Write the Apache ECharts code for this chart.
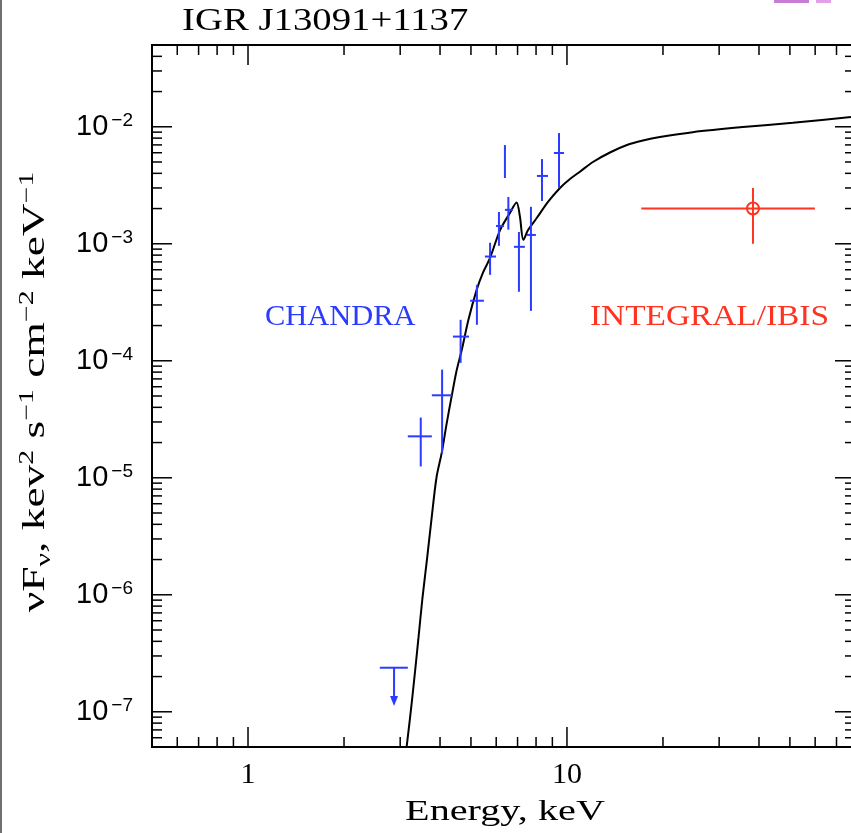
<!DOCTYPE html>
<html>
<head>
<meta charset="utf-8">
<title>IGR J13091+1137</title>
<script src="https://cdn.jsdelivr.net/npm/echarts@6/dist/echarts.min.js"></script>
<style>
  html, body { margin: 0; padding: 0; background: #fff; }
  #chart { width: 851px; height: 833px; }
</style>
</head>
<body>
<div id="chart"></div>
<script>
// Axis ranges (keV, keV^2 s^-1 cm^-2 keV^-1)
const energyRange = [0.5, 80];
const fluxRange = [5e-8, 5e-2];

// Tick marks
const energyMajorTicks = [1, 10];
const energyMinorTicks = [0.6, 0.7, 0.8, 0.9, 2, 3, 4, 5, 6, 7, 8, 9, 20, 30, 40, 50, 60, 70];
const fluxMajorTicks = [1e-7, 1e-6, 1e-5, 1e-4, 1e-3, 1e-2];
const fluxMinorTicks = [6e-8, 7e-8, 8e-8, 9e-8,
  2e-7, 3e-7, 4e-7, 5e-7, 6e-7, 7e-7, 8e-7, 9e-7,
  2e-6, 3e-6, 4e-6, 5e-6, 6e-6, 7e-6, 8e-6, 9e-6,
  2e-5, 3e-5, 4e-5, 5e-5, 6e-5, 7e-5, 8e-5, 9e-5,
  2e-4, 3e-4, 4e-4, 5e-4, 6e-4, 7e-4, 8e-4, 9e-4,
  2e-3, 3e-3, 4e-3, 5e-3, 6e-3, 7e-3, 8e-3, 9e-3,
  2e-2, 3e-2, 4e-2];

// Chandra spectrum: centre, energy bin edges, flux error range
const chandraE    = [3.48, 4.06, 4.64, 5.22, 5.74, 6.12, 6.39, 6.55, 7.07, 7.71, 8.35, 9.44];
const chandraElo  = [3.17, 3.77, 4.39, 4.97, 5.53, 5.99, 6.39, 6.39, 6.82, 7.49, 8.05, 9.10];
const chandraEhi  = [3.77, 4.36, 4.93, 5.49, 5.99, 6.35, 6.39, 6.77, 7.38, 7.99, 8.72, 9.79];
const chandraF    = [2.26e-5, 5.07e-5, 1.61e-4, 3.26e-4, 7.78e-4, 1.42e-3, 5.05e-3, 1.95e-3, 9.42e-4, 1.19e-3, 3.80e-3, 5.97e-3];
const chandraFlo  = [1.25e-5, 1.61e-5, 9.6e-5, 2.03e-4, 5.43e-4, 9.6e-4, 3.65e-3, 1.32e-3, 3.89e-4, 2.67e-4, 2.32e-3, 3.00e-3];
const chandraFhi  = [3.27e-5, 8.4e-5, 2.24e-4, 4.46e-4, 1.02e-3, 1.87e-3, 6.98e-3, 2.51e-3, 1.26e-3, 2.07e-3, 5.30e-3, 8.84e-3];

// Chandra upper limit: energy, bin edges, limit, arrow end
const limitE = [2.87];
const limitElo = [2.59];
const limitEhi = [3.17];
const limitF = [2.38e-7];
const limitArrowTo = [1.12e-7];

// INTEGRAL/IBIS point
const ibisE = [38.3];
const ibisElo = [17.1];
const ibisEhi = [59.9];
const ibisF = [2.0e-3];
const ibisFlo = [1.0e-3];
const ibisFhi = [3.0e-3];

// Absorbed model spectrum
const modelEnergy = [3.145, 3.27, 3.42, 3.52, 3.64, 3.76, 3.90, 4.05, 4.19, 4.35, 4.50, 4.68, 4.91, 5.21, 5.45,
  5.74, 6.17, 6.63, 6.95, 7.12, 7.30, 7.55, 8.04, 8.72, 9.51, 10.22, 10.98, 12.06, 13.64, 15.42, 17.3,
  19.56, 24.8, 35.6, 51.1, 77.7, 80];
const modelFlux = [5.09e-8, 1.28e-7, 4.17e-7, 9.16e-7, 2.01e-6, 4.41e-6, 1.01e-5, 1.64e-5, 2.85e-5, 4.97e-5, 8.07e-5,
  1.24e-4, 2.24e-4, 4.04e-4, 5.65e-4, 7.58e-4, 1.31e-3, 1.84e-3, 2.25e-3, 1.71e-3, 1.08e-3, 1.31e-3, 1.66e-3,
  2.28e-3, 3.00e-3, 3.58e-3, 4.13e-3, 5.00e-3, 6.03e-3, 6.98e-3, 7.62e-3, 8.17e-3, 9.00e-3, 9.94e-3, 1.08e-2,
  1.21e-2, 1.22e-2];

const BLUE = '#2b3bff';
const RED = '#ff3322';
const SERIF = '"Liberation Serif", "DejaVu Serif", serif';
const SANS = '"Liberation Sans", Arial, sans-serif';

const chandraData = chandraE.map((e, i) => [e, chandraF[i], chandraElo[i], chandraEhi[i], chandraFlo[i], chandraFhi[i]]);
const limitData = limitE.map((e, i) => [e, limitF[i], limitElo[i], limitEhi[i], limitArrowTo[i]]);
const ibisData = ibisE.map((e, i) => [e, ibisF[i], ibisElo[i], ibisEhi[i], ibisFlo[i], ibisFhi[i]]);
const modelData = modelEnergy.map((e, i) => [e, modelFlux[i]]);

function isDecade(v) {
  const p = Math.log10(v);
  return Math.abs(p - Math.round(p)) < 1e-6;
}

function line(x1, y1, x2, y2, color, w) {
  return { type: 'line', shape: { x1, y1, x2, y2 }, style: { stroke: color, lineWidth: w } };
}

// Cross-shaped error bars
function renderCross(color, withCircle) {
  return function (params, api) {
    const e = api.value(0), f = api.value(1);
    const pL = api.coord([api.value(2), f]);
    const pR = api.coord([api.value(3), f]);
    const pB = api.coord([e, api.value(4)]);
    const pT = api.coord([e, api.value(5)]);
    const c = api.coord([e, f]);
    const children = [
      line(pL[0], pL[1], pR[0], pR[1], color, 2),
      line(pB[0], pB[1], pT[0], pT[1], color, 2)
    ];
    if (withCircle) {
      children.push({ type: 'circle', shape: { cx: c[0], cy: c[1], r: 6 },
        style: { fill: null, stroke: color, lineWidth: 2 } });
    }
    return { type: 'group', children };
  };
}

// Upper limit: horizontal bin bar with a downward arrow
function renderLimit(params, api) {
  const e = api.value(0), f = api.value(1);
  const pL = api.coord([api.value(2), f]);
  const pR = api.coord([api.value(3), f]);
  const top = api.coord([e, f]);
  const tip = api.coord([e, api.value(4)]);
  return {
    type: 'group',
    children: [
      line(pL[0], pL[1], pR[0], pR[1], BLUE, 2),
      line(top[0], top[1], tip[0], tip[1] - 8, BLUE, 2),
      { type: 'polygon', shape: { points: [[tip[0] - 4, tip[1] - 10], [tip[0] + 4, tip[1] - 10], [tip[0], tip[1]]] },
        style: { fill: BLUE } }
    ]
  };
}

// Frame with inward log ticks on all four sides
function renderFrame(params, api) {
  const cs = params.coordSys;
  const x0 = cs.x, y0 = cs.y, x1 = cs.x + cs.width, y1 = cs.y + cs.height;
  const yRef = fluxRange[0], xRef = energyRange[0];
  const children = [];
  const addX = (vals, len) => vals.forEach(v => {
    const px = api.coord([v, yRef])[0];
    children.push(line(px, y1, px, y1 - len, '#000', 1.5));
    children.push(line(px, y0, px, y0 + len, '#000', 1.5));
  });
  const addY = (vals, len) => vals.forEach(v => {
    const py = api.coord([xRef, v])[1];
    children.push(line(x0, py, x0 + len, py, '#000', 1.5));
    children.push(line(x1, py, x1 - len, py, '#000', 1.5));
  });
  addX(energyMajorTicks, 20);
  addX(energyMinorTicks, 10);
  addY(fluxMajorTicks, 20);
  addY(fluxMinorTicks, 10);
  children.push({ type: 'rect', shape: { x: x0, y: y0, width: cs.width, height: cs.height },
    style: { fill: null, stroke: '#000', lineWidth: 2 } });
  return { type: 'group', children };
}

const chart = echarts.init(document.getElementById('chart'), null, { renderer: 'canvas' });

chart.setOption({
  animation: false,
  backgroundColor: '#fff',
  grid: { left: 152, width: 703, top: 45, height: 702, containLabel: false, outerBoundsMode: 'none' },
  xAxis: {
    type: 'log', logBase: 10, min: energyRange[0], max: energyRange[1],
    axisLine: { show: false }, axisTick: { show: false }, splitLine: { show: false },
    axisLabel: {
      margin: 13, fontFamily: SERIF, fontSize: 30, color: '#000',
      showMinLabel: false, showMaxLabel: false,
      formatter: v => isDecade(v) ? String(Math.round(v)) : ''
    }
  },
  yAxis: {
    type: 'log', logBase: 10, min: fluxRange[0], max: fluxRange[1],
    axisLine: { show: false }, axisTick: { show: false }, splitLine: { show: false },
    axisLabel: {
      margin: 19, color: '#000',
      showMinLabel: false, showMaxLabel: false,
      formatter: v => isDecade(v) ? '{b|10}{s|\u2212' + (-Math.round(Math.log10(v))) + '}' : '',
      rich: {
        b: { fontFamily: SANS, fontSize: 29, lineHeight: 32, color: '#000' },
        s: { fontFamily: SANS, fontSize: 19, lineHeight: 20, verticalAlign: 'top', padding: [0, 0, 0, 3], color: '#000' }
      }
    }
  },
  series: [
    {
      type: 'custom', name: 'frame', silent: true, clip: false, z: 5,
      data: [[1, 1e-3]], renderItem: renderFrame
    },
    {
      type: 'line', name: 'model', data: modelData, showSymbol: false, smooth: 0.3,
      lineStyle: { color: '#000', width: 2 }, clip: true, z: 3
    },
    {
      type: 'custom', name: 'CHANDRA', data: chandraData, renderItem: renderCross(BLUE, false),
      encode: { x: 0, y: 1 }, z: 4
    },
    {
      type: 'custom', name: 'CHANDRA limit', data: limitData, renderItem: renderLimit,
      encode: { x: 0, y: 1 }, z: 4
    },
    {
      type: 'custom', name: 'INTEGRAL/IBIS', data: ibisData, renderItem: renderCross(RED, true),
      encode: { x: 0, y: 1 }, z: 4
    }
  ],
  graphic: [
    { type: 'rect', shape: { x: 0, y: 0, width: 2, height: 833 }, style: { fill: '#707070' } },
    { type: 'rect', shape: { x: 774, y: 0, width: 35, height: 3 }, style: { fill: '#c77dd6' } },
    { type: 'rect', shape: { x: 816, y: 0, width: 15, height: 3 }, style: { fill: '#e59ee9' } },
    { type: 'text', x: 182, y: 22, scaleX: 1.25,
      style: { text: 'IGR J13091+1137', font: '31px ' + SERIF, fill: '#000', align: 'left', verticalAlign: 'middle' } },
    { type: 'text', x: 505, y: 812, scaleX: 1.34,
      style: { text: 'Energy, keV', font: '30px ' + SERIF, fill: '#000', align: 'center', verticalAlign: 'middle' } },
    { type: 'text', x: 265, y: 317, scaleX: 1.05,
      style: { text: 'CHANDRA', font: '29px ' + SERIF, fill: BLUE, align: 'left', verticalAlign: 'middle' } },
    { type: 'text', x: 590, y: 317, scaleX: 1.15,
      style: { text: 'INTEGRAL/IBIS', font: '29px ' + SERIF, fill: RED, align: 'left', verticalAlign: 'middle' } },
    { type: 'text', x: 36, y: 392, rotation: Math.PI / 2, scaleX: 1.42,
      style: {
        text: '{n|\u03bdF}{sub|\u03bd}{n|, kev}{sup|2}{n| s}{sup|\u22121}{n| cm}{sup|\u22122}{n| keV}{sup|\u22121}',
        align: 'center', verticalAlign: 'middle',
        rich: {
          n: { fontFamily: SERIF, fontSize: 32, lineHeight: 38, fill: '#000' },
          sub: { fontFamily: SERIF, fontSize: 21, lineHeight: 21, verticalAlign: 'bottom', fill: '#000' },
          sup: { fontFamily: SERIF, fontSize: 21, lineHeight: 25, verticalAlign: 'top', fill: '#000' }
        }
      } }
  ]
});
</script>
</body>
</html>
